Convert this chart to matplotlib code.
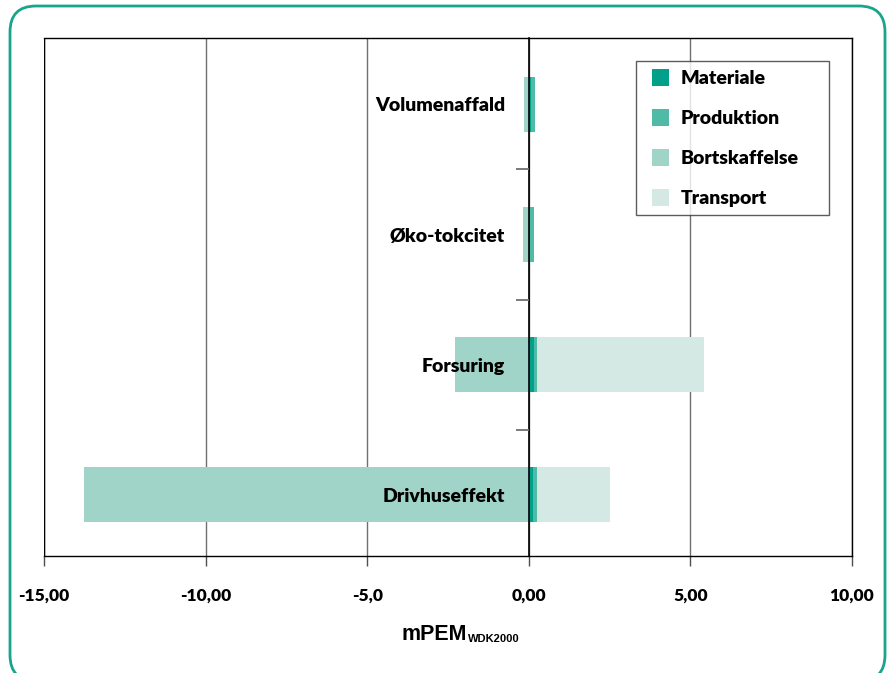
import matplotlib
matplotlib.use("Agg")
import matplotlib.pyplot as plt
from matplotlib.patches import FancyBboxPatch, Patch, Rectangle
from matplotlib.legend_handler import HandlerPatch
from matplotlib.transforms import IdentityTransform
import numpy as np

# ---- data ----
categories = ["Drivhuseffekt", "Forsuring", "Øko-tokcitet", "Volumenaffald"]
materiale = [0.14, 0.17, 0.04, 0.06]
produktion = [0.12, 0.08, 0.12, 0.12]
bortskaffelse = [-13.75, -2.29, -0.18, -0.15]
transport = [2.25, 5.16, 0.0, 0.0]
series_names = ["Materiale", "Produktion", "Bortskaffelse", "Transport"]
colors = ["#00A08A", "#4FBBA7", "#A0D4C8", "#D4E9E3"]
xticks = [-15, -10, -5, 0, 5, 10]
xticklabels = ["-15,00", "-10,00", "-5,0", "0,00", "5,00", "10,00"]
xlabel_main = "mPEM"
xlabel_sub = "WDK2000"

W, H = 889, 673
fig = plt.figure(figsize=(W / 100, H / 100), dpi=100)
ax = fig.add_axes([44 / W, 1 - 556 / H, (852 - 44) / W, (556 - 38) / H])

y = np.arange(len(categories))
bh = 0.42
m = np.array(materiale)
p = np.array(produktion)
b = np.array(bortskaffelse)
t = np.array(transport)
ax.barh(y, m, height=bh, color=colors[0], label=series_names[0], zorder=1)
ax.barh(y, p, left=m, height=bh, color=colors[1], label=series_names[1], zorder=1)
ax.barh(y, b, height=bh, color=colors[2], label=series_names[2], zorder=1)
ax.barh(y, t, left=m + p, height=bh, color=colors[3], label=series_names[3], zorder=1)

ax.set_xlim(xticks[0], xticks[-1])
ax.set_ylim(-0.47, len(categories) - 0.49)

# frame / spines
ax.spines["left"].set_position(("data", 0))
ax.spines["left"].set_color("black")
ax.spines["left"].set_linewidth(1.2)
for s in ["top", "bottom", "right"]:
    ax.spines[s].set_color("black")
    ax.spines[s].set_linewidth(1.0)
ax.vlines(xticks[:1], 0, 1, transform=ax.get_xaxis_transform(), color="black", lw=1.0, zorder=2.5)

# x grid
ax.set_xticks(xticks)
ax.set_xticklabels(xticklabels, fontfamily="Lato", fontweight="heavy", fontsize=12.5)
ax.grid(axis="x", color="#707070", lw=1.0)
ax.set_axisbelow(True)
ax.tick_params(axis="x", direction="out", length=7.5, width=1.0, color="#505050", pad=15)

# y ticks: labels at centers, short ticks at boundaries
ax.set_yticks(y)
ax.set_yticklabels(categories, fontfamily="Lato", fontweight="heavy", fontsize=14)
ax.set_yticks(y[:-1] + 0.5, minor=True)
ax.tick_params(axis="y", which="major", length=0, pad=17)
ax.tick_params(axis="y", which="minor", direction="out", length=9.5, width=1.3, color="#707070")
ax.yaxis.set_zorder(3)

# x label
fig.text(0.5 - 0.012, 1 - 634 / H, xlabel_main, ha="center", va="center",
         fontfamily="Liberation Sans", fontweight="bold", fontsize=15.5)
fig.text(0.5 + 0.026, 1 - 639 / H, xlabel_sub, ha="left", va="center",
         fontfamily="Liberation Sans", fontweight="bold", fontsize=8)


# legend: square swatches right-aligned in the handle box
def square_patch(legend, orig_handle, xdescent, ydescent, width, height, fontsize):
    return Rectangle((-xdescent + width - height, -ydescent), height, height)


handles = [Patch(facecolor=c, edgecolor="none") for c in colors]
leg = ax.legend(handles, series_names, loc="upper left",
                bbox_to_anchor=((636 - 44) / 808, 0.5, 193 / 808, (556 - 61) / 518 - 0.5),
                mode="expand", borderaxespad=0, frameon=True, fancybox=False,
                edgecolor="#333333",
                prop={"family": "Lato", "weight": "heavy", "size": 14},
                handler_map={Patch: HandlerPatch(patch_func=square_patch)},
                handlelength=1.3, handleheight=0.95, handletextpad=0.6,
                labelspacing=1.13, borderpad=0.4)
leg.get_frame().set_linewidth(1.0)

# rounded green border
border = FancyBboxPatch((10, -8), 875, H + 8 - 6, boxstyle="round,pad=0,rounding_size=26",
                        transform=IdentityTransform(), facecolor="none",
                        edgecolor="#17A58E", lw=2.0)
fig.patches.append(border)

fig.savefig("out.png", dpi=100)
